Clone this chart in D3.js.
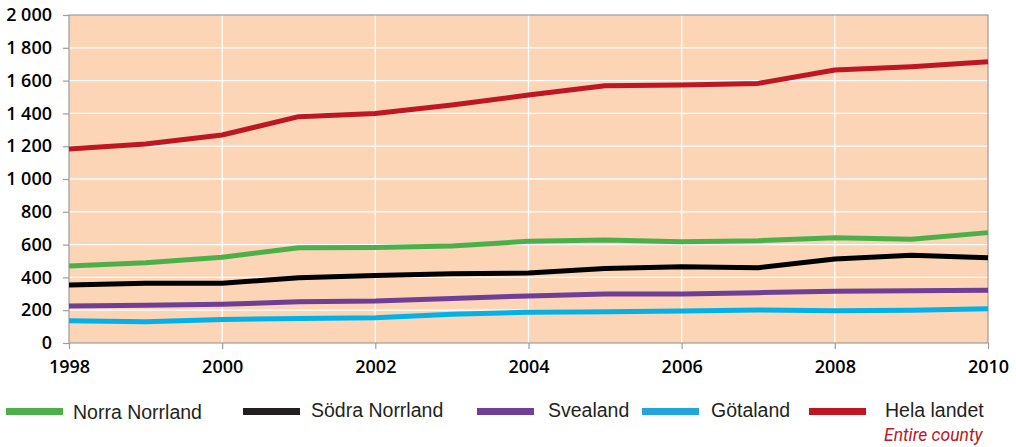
<!DOCTYPE html>
<html>
<head>
<meta charset="utf-8">
<script src="https://cdn.jsdelivr.net/npm/d3@7"></script>
<style>
  body { margin: 0; background: #fff; }
  svg { display: block; }
</style>
</head>
<body>
<svg id="chart" width="1016" height="447"></svg>
<script>
const years = [1998, 1999, 2000, 2001, 2002, 2003, 2004, 2005, 2006, 2007, 2008, 2009, 2010];
const yTicks = [0, 200, 400, 600, 800, 1000, 1200, 1400, 1600, 1800, 2000];
const xTicks = [1998, 2000, 2002, 2004, 2006, 2008, 2010];

const norraNorrland = [469, 490, 523, 581, 583, 591, 620, 628, 618, 624, 642, 632, 673];
const sodraNorrland = [354, 364, 364, 398, 411, 423, 427, 455, 465, 459, 512, 535, 520];
const svealand = [226, 230, 236, 252, 256, 272, 287, 299, 299, 307, 315, 319, 321];
const gotaland = [136, 130, 144, 150, 154, 175, 187, 191, 195, 201, 197, 199, 209];
const helaLandet = [1183, 1213, 1268, 1380, 1400, 1451, 1512, 1569, 1573, 1583, 1665, 1685, 1715];

const seriesNames = ["Norra Norrland", "Södra Norrland", "Svealand", "Götaland", "Hela landet"];
const seriesValues = [norraNorrland, sodraNorrland, svealand, gotaland, helaLandet];
const seriesColors = ["#4cb04a", "#000000", "#703d97", "#00b2e8", "#be1622"];
const legendColors = ["#4cb04a", "#231f20", "#703d97", "#22a5dc", "#be1622"];

const svg = d3.select("#chart");
const m = { left: 69, right: 988, top: 15, bottom: 343 };

const x = d3.scaleLinear().domain([1998, 2010]).range([m.left, m.right]);
const y = d3.scaleLinear().domain([0, 2000]).range([m.bottom, m.top]);

// background
svg.append("rect")
  .attr("x", m.left).attr("y", m.top)
  .attr("width", m.right - m.left).attr("height", m.bottom - m.top)
  .attr("fill", "#fbd5b5");

// grid
svg.append("g").selectAll("line").data(yTicks.slice(1, -1)).join("line")
  .attr("x1", m.left).attr("x2", m.right)
  .attr("y1", d => y(d)).attr("y2", d => y(d))
  .attr("stroke", "#fff").attr("stroke-width", 1.3);
svg.append("g").selectAll("line").data(xTicks.slice(1, -1)).join("line")
  .attr("y1", m.top).attr("y2", m.bottom)
  .attr("x1", d => x(d)).attr("x2", d => x(d))
  .attr("stroke", "#fff").attr("stroke-width", 1.3);

// frame
svg.append("rect")
  .attr("x", m.left).attr("y", m.top)
  .attr("width", m.right - m.left).attr("height", m.bottom - m.top)
  .attr("fill", "none").attr("stroke", "#9d9d9c").attr("stroke-width", 1.2);

// axes
const yAxis = svg.append("g")
  .attr("transform", `translate(${m.left},0)`)
  .call(d3.axisLeft(y).tickValues(yTicks).tickSize(6).tickPadding(11)
    .tickFormat(d => d3.format(",")(d).replace(",", " ")));
const xAxis = svg.append("g")
  .attr("transform", `translate(0,${m.bottom})`)
  .call(d3.axisBottom(x).tickValues(xTicks).tickSize(6).tickPadding(11)
    .tickFormat(d3.format("d")));
[yAxis, xAxis].forEach(a => {
  a.select(".domain").remove();
  a.selectAll(".tick line").attr("stroke", "#9d9d9c").attr("stroke-width", 1.2);
  a.selectAll(".tick text")
    .attr("fill", "#000")
    .style("font-family", "'Open Sans', sans-serif")
    .style("font-size", "18px")
    .style("font-weight", "600");
});

// lines
const line = d3.line()
  .x((d, i) => x(years[i]))
  .y(d => y(d));

svg.append("g").selectAll("path").data(seriesValues).join("path")
  .attr("d", d => line(d))
  .attr("fill", "none")
  .attr("stroke", (d, i) => seriesColors[i])
  .attr("stroke-width", 5)
  .attr("stroke-linejoin", "round");

// legend
const legendX = [6, 243, 477, 642, 809];
const textX = [73, 311, 548, 711, 885];
const legend = svg.append("g").selectAll("g").data(seriesNames).join("g");
legend.append("rect")
  .attr("x", (d, i) => legendX[i]).attr("y", 408)
  .attr("width", 57).attr("height", 7)
  .attr("fill", (d, i) => legendColors[i]);
legend.append("text")
  .attr("x", (d, i) => textX[i])
  .attr("y", (d, i) => i === 0 ? 419 : 417)
  .attr("font-family", "'Liberation Sans', Arial, sans-serif")
  .attr("font-size", "19.5px")
  .attr("fill", "#231f20")
  .text(d => d);

svg.append("text")
  .attr("x", 884).attr("y", 441)
  .attr("font-family", "Roboto, sans-serif")
  .attr("font-style", "italic")
  .attr("font-size", "17.5px")
  .attr("fill", "#be1622")
  .text("Entire county");
</script>
</body>
</html>
